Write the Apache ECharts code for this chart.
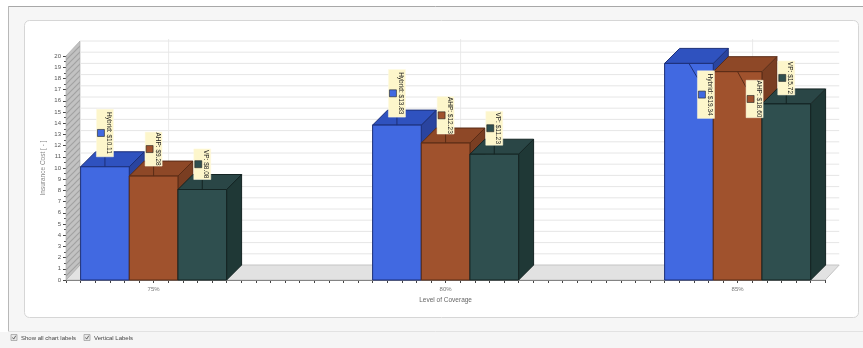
<!DOCTYPE html>
<html>
<head>
<meta charset="utf-8">
<style>
html,body{margin:0;padding:0;background:#fff;}
#chart{width:863px;height:348px;filter:blur(0.6px);}
</style>
<script src="https://cdn.jsdelivr.net/npm/echarts@6/dist/echarts.min.js"></script>
</head>
<body>
<div id="chart"></div>
<script>
const categories = ['75%', '80%', '85%'];
const seriesNames = ['Hybrid', 'AHP', 'VP'];
const hybridCost = [10.11, 13.83, 19.34];
const ahpCost = [9.28, 12.23, 18.60];
const vpCost = [8.08, 11.23, 15.72];
const yTicks = [0,1,2,3,4,5,6,7,8,9,10,11,12,13,14,15,16,17,18,19,20];

const costs = [hybridCost, ahpCost, vpCost];
const palette = [
  {front:'#4169e1', top:'#2f52bf', side:'#2a449f', edge:'#1c2f78'},
  {front:'#a0522d', top:'#8e4827', side:'#7a3e22', edge:'#5a2c16'},
  {front:'#2f4f4f', top:'#2a4646', side:'#1f3836', edge:'#142423'}
];
const TICKS_PER_GROUP = 20, BAR_TICKS = 10 / 3;
const DX = 15, DY = -15;
// Label placement relative to the bar's top-centre: [dx, dy of box bottom]
const labelShift = [
  [[0,-10],[0,-10],[0,-10]],
  [[0,-8],[0,-9],[0,-9]],
  [[17,55],[17,46],[0,-9]]
];

const chart = echarts.init(document.getElementById('chart'), null, {renderer:'canvas'});

function hatch(){
  const c = document.createElement('canvas'); c.width = 6; c.height = 6;
  const g = c.getContext('2d');
  g.fillStyle = '#c2c2c2'; g.fillRect(0,0,6,6);
  g.strokeStyle = '#a2a2a2'; g.lineWidth = 1.2;
  g.beginPath(); g.moveTo(-1,7); g.lineTo(7,-1); g.moveTo(-1,1); g.lineTo(1,-1); g.moveTo(5,7); g.lineTo(7,5); g.stroke();
  return c;
}
const wallFill = {image: hatch(), repeat:'repeat'};

const xMin = -6, xMax = 46;

function sceneSeries(){
  return {
    type:'custom', coordinateSystem:'cartesian2d', silent:true, z:1, clip:false,
    data: yTicks.map(v => [xMin, v]),
    encode:{x:0,y:1},
    renderItem(params, api){
      const v = api.value(1);
      const a = api.coord([xMin, v]), b = api.coord([xMax, v]);
      const kids = [];
      if (params.dataIndex === 0){
        const top = api.coord([xMin, yTicks[yTicks.length-1]]);
        kids.push({type:'polygon', shape:{points:[[a[0],a[1]],[a[0]+DX-1,a[1]+DY],[b[0]+DX-1,b[1]+DY],[b[0],b[1]]]},
          style:{fill:'#e2e2e2', stroke:'#c4c4c4', lineWidth:1}});
        kids.push({type:'polygon', shape:{points:[[a[0],a[1]],[a[0]+DX-1,a[1]+DY],[top[0]+DX-1,top[1]+DY],[top[0],top[1]]]},
          style:{fill:wallFill, stroke:'#a8a8a8', lineWidth:0.6}});
        for (let g = 0; g < categories.length; g++){
          const p = api.coord([g*TICKS_PER_GROUP, 0]);
          kids.push({type:'line', shape:{x1:p[0]+DX,y1:p[1]+DY,x2:p[0]+DX,y2:top[1]+DY-2},
            style:{stroke:'#ebebeb', lineWidth:1}});
        }
      }
      if (v > 0) kids.push({type:'line', shape:{x1:a[0]+DX-1,y1:a[1]+DY,x2:b[0]+DX-1,y2:b[1]+DY},
        style:{stroke:'#e6e6e6', lineWidth:1}});
      return {type:'group', children:kids};
    }
  };
}

function barSeries(si){
  const pal = palette[si];
  return {
    name: seriesNames[si], type:'custom', coordinateSystem:'cartesian2d', z:3+si, clip:false, silent:true,
    data: costs[si].map((v,g) => [g*TICKS_PER_GROUP, v]),
    encode:{x:0,y:1},
    renderItem(params, api){
      const c = api.value(0), v = api.value(1);
      const l = c - 1.5*BAR_TICKS + si*BAR_TICKS, r = l + BAR_TICKS;
      const tl = api.coord([l,v]), tr = api.coord([r,v]), bl = api.coord([l,0]), br = api.coord([r,0]);
      const st = (f) => ({fill:f, stroke:pal.edge, lineWidth:1});
      return {type:'group', children:[
        {type:'polygon', shape:{points:[[tr[0],tr[1]],[tr[0]+DX,tr[1]+DY],[br[0]+DX,br[1]+DY],[br[0],br[1]]]}, style:st(pal.side)},
        {type:'polygon', shape:{points:[[tl[0],tl[1]],[tl[0]+DX,tl[1]+DY],[tr[0]+DX,tr[1]+DY],[tr[0],tr[1]]]}, style:st(pal.top)},
        {type:'rect', shape:{x:tl[0],y:tl[1],width:tr[0]-tl[0],height:bl[1]-tl[1]}, style:st(pal.front)},
      ]};
    }
  };
}

function labelSeries(si){
  const pal = palette[si];
  return {
    type:'custom', coordinateSystem:'cartesian2d', z:10, clip:false, silent:true,
    data: costs[si].map((v,g) => [g*TICKS_PER_GROUP, v]),
    encode:{x:0,y:1},
    renderItem(params, api){
      const g = params.dataIndex;
      const c = api.value(0), v = api.value(1);
      const mid = c - BAR_TICKS + si*BAR_TICKS;
      const p = api.coord([mid, v]);
      const [sx, sy] = labelShift[g][si];
      const text = seriesNames[si] + ': $' + v.toFixed(2);
      const h = text.length * 3.4, w = 17;
      const cx = p[0] + sx, bottom = p[1] + sy;
      const top = bottom - h, midY = bottom - h/2;
      const leaderEnd = sy > 0 ? [cx - w/2, top + 7] : [p[0], bottom];
      return {type:'group', children:[
        {type:'line', shape:{x1:p[0],y1:p[1],x2:leaderEnd[0],y2:leaderEnd[1]}, style:{stroke:pal.edge, lineWidth:1}},
        {type:'rect', shape:{x:cx-w/2,y:top,width:w,height:h}, style:{fill:'#fdf6cb', stroke:'#fffbe4', lineWidth:0.5}},
        {type:'rect', shape:{x:cx-7.5,y:midY-3.5,width:7,height:7}, style:{fill:pal.front, stroke:'#222', lineWidth:0.6}},
        {type:'text', x:cx+4, y:midY, rotation:-Math.PI/2, style:{text, fill:'#222', font:'6.5px "Liberation Sans"', align:'center', verticalAlign:'middle'}}
      ]};
    }
  };
}

function checkbox(x, y){
  return [
    {type:'rect', z:-8, shape:{x:x,y:y,width:6,height:6}, style:{fill:'#e8e8e8', stroke:'#999', lineWidth:0.7}},
    {type:'polyline', z:-8, shape:{points:[[x+1.5,y+3],[x+2.7,y+4.6],[x+4.8,y+1.2]]}, style:{stroke:'#555', fill:null, lineWidth:0.9}}
  ];
}

const option = {
  animation:false,
  backgroundColor:'#fff',
  grid:{left:66, top:56, width:759.2, height:224, containLabel:false},
  graphic:[
    {type:'rect', z:-10, shape:{x:8,y:6,width:855,height:326}, style:{fill:'#f6f6f6'}},
    {type:'line', z:-9, shape:{x1:8,y1:6.5,x2:863,y2:6.5}, style:{stroke:'#a8a8a8', lineWidth:1}},
    {type:'line', z:-9, shape:{x1:8.5,y1:6,x2:8.5,y2:332}, style:{stroke:'#b8b8b8', lineWidth:1}},
    {type:'line', z:-9, shape:{x1:8,y1:331.5,x2:863,y2:331.5}, style:{stroke:'#e2e2e2', lineWidth:1}},
    {type:'rect', z:-9, shape:{x:24.5,y:20.5,width:834,height:297,r:5}, style:{fill:'#fff', stroke:'#d6d6d6', lineWidth:1}},
    {type:'rect', z:-10, shape:{x:0,y:332,width:863,height:16}, style:{fill:'#f5f5f5'}},
    ...checkbox(11, 334.5),
    {type:'text', z:-8, x:21, y:338, style:{text:'Show all chart labels', fill:'#444', font:'6px "Liberation Sans"', verticalAlign:'middle'}},
    ...checkbox(84, 334.5),
    {type:'text', z:-8, x:94, y:338, style:{text:'Vertical Labels', fill:'#444', font:'6px "Liberation Sans"', verticalAlign:'middle'}}
  ],
  xAxis:{
    type:'value', min:xMin, max:xMax, interval:1,
    name:'Level of Coverage', nameLocation:'middle', nameGap:13,
    nameTextStyle:{fontSize:6.5, color:'#666', fontFamily:'Liberation Sans'},
    axisLine:{show:true, lineStyle:{color:'#444'}, onZero:false},
    axisTick:{show:true, length:3, lineStyle:{color:'#444'}},
    axisLabel:{show:true, margin:6, fontSize:6, color:'#777', fontFamily:'Liberation Sans', hideOverlap:false, showMinLabel:true, showMaxLabel:true,
      formatter:(v)=> (v % TICKS_PER_GROUP === 0 && categories[v/TICKS_PER_GROUP]) ? categories[v/TICKS_PER_GROUP] : ''},
    splitLine:{show:false}
  },
  yAxis:{
    type:'value', min:0, max:20, interval:1,
    name:'Insurance Cost [ - ]', nameLocation:'middle', nameGap:19, nameRotate:90, nameMoveOverlap:false,
    nameTextStyle:{fontSize:6.5, color:'#888', fontFamily:'Liberation Sans'},
    axisLine:{show:true, onZero:false, lineStyle:{color:'#444'}},
    axisTick:{show:true, length:3, lineStyle:{color:'#444'}},
    minorTick:{show:true, splitNumber:2, length:2, lineStyle:{color:'#555'}},
    axisLabel:{margin:5, fontSize:6, color:'#555', fontFamily:'Liberation Sans'},
    splitLine:{show:false}
  },
  series:[sceneSeries(), barSeries(0), barSeries(1), barSeries(2), labelSeries(0), labelSeries(1), labelSeries(2)]
};
chart.setOption(option);
</script>
</body>
</html>
